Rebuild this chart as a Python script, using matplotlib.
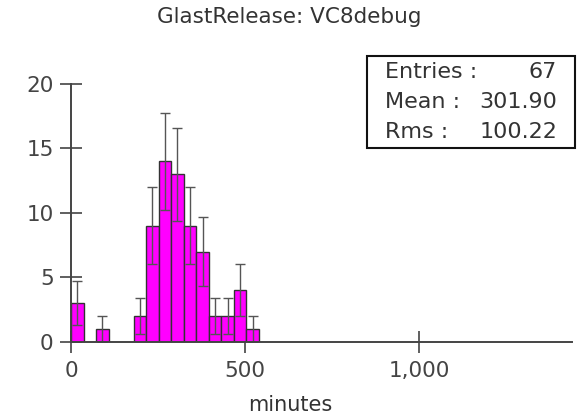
import numpy as np
import matplotlib
matplotlib.use("Agg")
import matplotlib.pyplot as plt
from matplotlib.patches import Rectangle
from matplotlib.ticker import FuncFormatter

# histogram of build times, 40 bins of 36 minutes over a day
bin_width = 36
bin_edges = np.arange(0, 1440 + bin_width, bin_width)
counts = [3, 0, 1, 0, 0, 2, 9, 14, 13, 9, 7, 2, 2, 4, 1,
          0, 0, 0, 0, 0, 0, 0, 0, 0, 0, 0, 0, 0, 0, 0,
          0, 0, 0, 0, 0, 0, 0, 0, 0, 0]
x_ticks = [0, 500, 1000]
y_ticks = [0, 5, 10, 15, 20]
stats_labels = ["Entries :", "Mean :", "Rms :"]
stats_values = ["67", "301.90", "100.22"]

title = "GlastRelease: VC8debug"
xlabel = "minutes"

W, H = 579, 417
fig = plt.figure(figsize=(W / 100, H / 100), dpi=100)
ax = fig.add_axes([71 / W, 1 - 341.7 / H, (572 - 71) / W, (341.7 - 84) / H])

counts = np.array(counts, dtype=float)
left = bin_edges[:-1]
nz = counts > 0
ax.bar(left[nz], counts[nz], width=bin_width, align="edge",
       color="#ff00ff", edgecolor="#333333", linewidth=1.0, zorder=2)
# error bars are sqrt(N) per bin
ax.errorbar(left[nz] + bin_width / 2, counts[nz], yerr=np.sqrt(counts[nz]),
            fmt="none", ecolor="#555555", elinewidth=1.0, capsize=3.3,
            capthick=1.0, zorder=3)

ax.set_xlim(0, 1440)
ax.set_ylim(0, 20)
ax.set_xticks(x_ticks)
ax.set_yticks(y_ticks)
ax.xaxis.set_major_formatter(FuncFormatter(lambda v, p: "{:,.0f}".format(v)))

for s in ["top", "right"]:
    ax.spines[s].set_visible(False)
for s in ["left", "bottom"]:
    ax.spines[s].set_color("#444444")
    ax.spines[s].set_linewidth(1.4)
    ax.spines[s].set_zorder(4)
ax.tick_params(direction="inout", length=16, width=1.2, color="#444444",
               labelsize=15.5, labelcolor="#444444")
ax.tick_params(axis="y", pad=4.5)
ax.tick_params(axis="x", pad=6)
ax.patch.set_alpha(0)

fig.text(0.5, 1 - 17 / H, title, ha="center", va="center",
         fontsize=15.5, color="#333333")
fig.text(290 / W, 1 - 405 / H, xlabel, ha="center", va="center",
         fontsize=15, color="#333333")

# statistics box
fig.patches.append(Rectangle((367 / W, 1 - 148 / H), (575 - 367) / W, (148 - 56) / H,
                             transform=fig.transFigure, fill=False,
                             edgecolor="#111111", linewidth=1.5))
row_y = [72, 102, 132]
for lab, val, y in zip(stats_labels, stats_values, row_y):
    fig.text(385 / W, 1 - y / H, lab, ha="left", va="center",
             fontsize=16, color="#333333")
    fig.text(557 / W, 1 - y / H, val, ha="right", va="center",
             fontsize=16, color="#333333")

fig.savefig("out.png", dpi=100)
